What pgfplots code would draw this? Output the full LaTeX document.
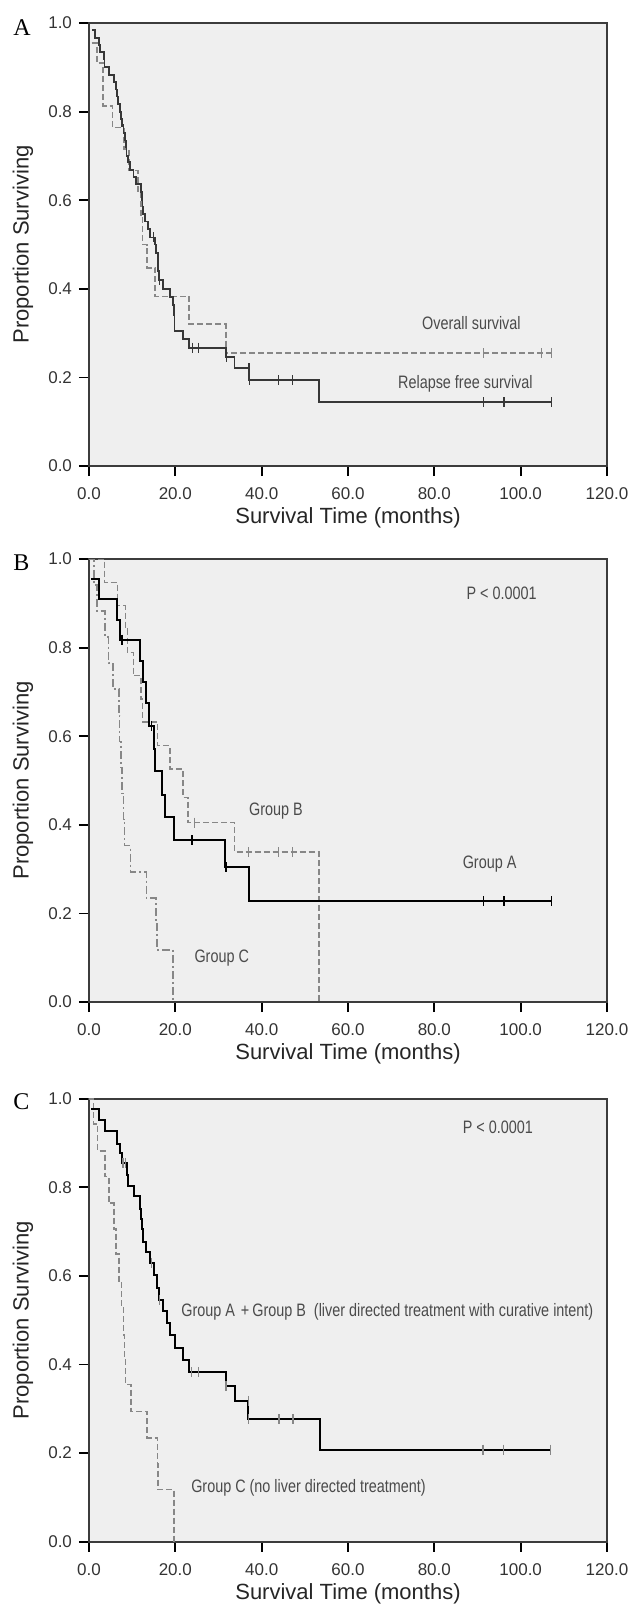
\documentclass[border=0pt]{standalone}
\usepackage{fontspec}
\setmainfont{Liberation Sans}
\newfontfamily\serifA{Liberation Serif}
\newfontfamily\annfont[FakeStretch=0.8]{Liberation Sans}
\usepackage{pgfplots}
\pgfplotsset{compat=1.18}
\definecolor{bg}{RGB}{239,239,239}
\definecolor{frame}{RGB}{60,60,60}
\definecolor{dk}{RGB}{55,55,55}
\definecolor{gr}{RGB}{135,135,135}
\definecolor{txt}{RGB}{75,75,75}
\tikzset{ann/.style={font=\annfont\fontsize{9pt}{10pt}\selectfont, text=txt, inner sep=0pt}}
\pgfplotsset{km/.style={
 width=259pt,height=221.5pt,scale only axis,
 xmin=0,xmax=120,ymin=0,ymax=1,
 xtick={0,20,40,60,80,100,120}, xticklabels={0.0,20.0,40.0,60.0,80.0,100.0,120.0},
 ytick={0,0.2,0.4,0.6,0.8,1.0}, yticklabels={0.0,0.2,0.4,0.6,0.8,1.0},
 tick align=outside, major tick length=5pt, xtick pos=bottom, ytick pos=left,
 tick style={line width=0.9pt, color=black},
 axis line style={line width=0.8pt, color=frame},
 axis background/.style={fill=bg},
 ticklabel style={font=\fontsize{8.5pt}{10pt}\selectfont, text=black!80},
 xticklabel style={yshift=-2.5pt},
 label style={font=\fontsize{11pt}{13pt}\selectfont, text=black!85},
 xlabel={Survival Time (months)},
 ylabel={Proportion Surviving},
 xlabel style={at={(axis description cs:0.5,-0.117)}, anchor=center},
 ylabel style={at={(axis description cs:-0.1274,0.5)}, anchor=center},
 censor/.style={only marks, mark=|, mark size=2.5pt, mark options={line width=0.7pt}},
}}
\begin{document}
\begin{tikzpicture}
\path[use as bounding box] (0,0) rectangle (317pt,-806pt);
% ---------- Panel A ----------
\begin{axis}[km, at={(44.5pt,-233pt)}, anchor=south west]
\addplot[const plot, color=gr, line width=0.8pt, dash pattern=on 3pt off 1.5pt] coordinates {
(0.6,0.955)(1.8,0.91)(3.3,0.813)(5.4,0.764)(8.1,0.715)(9.2,0.667)(11.3,0.617)(12.0,0.56)(12.4,0.5)(13.5,0.447)(15.3,0.383)(23.2,0.32)(31.7,0.255)(107.1,0.255)};
\addplot[censor, color=gr] coordinates {(91.4,0.255)(104.8,0.255)(107.1,0.255)};
\addplot[const plot, color=dk, line width=0.9pt] coordinates {
(0.8,0.984)(1.4,0.967)(2.3,0.951)(2.5,0.934)(3.5,0.918)(3.6,0.9)(4.7,0.882)(5.8,0.866)(6.2,0.85)(6.5,0.834)(6.8,0.818)(7.1,0.80)(7.4,0.784)(7.7,0.768)(8.0,0.752)(8.3,0.735)(8.5,0.719)(8.7,0.70)(9.0,0.686)(9.5,0.669)(10.3,0.652)(10.8,0.636)(12.0,0.619)(12.2,0.60)(12.4,0.585)(12.6,0.568)(13.0,0.552)(13.7,0.535)(14.2,0.516)(15.3,0.50)(15.6,0.48)(15.9,0.46)(16.0,0.44)(16.3,0.42)(17.2,0.40)(18.7,0.382)(19.4,0.364)(19.6,0.34)(19.8,0.305)(21.7,0.286)(23.2,0.267)(31.7,0.246)(33.7,0.221)(37.1,0.194)(53.3,0.144)(107.1,0.144)};
\addplot[censor, color=dk] coordinates {(8.0,0.76)(15.0,0.516)(16.4,0.42)(24.0,0.267)(25.3,0.267)(31.8,0.246)(37.1,0.221)(37.2,0.194)(43.9,0.194)(47.2,0.194)(91.4,0.144)(96.1,0.144)(107.1,0.144)};
\node[ann] at (axis cs:88.6,0.322) {Overall survival};
\node[ann] at (axis cs:87.2,0.186) {Relapse free survival};
\end{axis}
\node[anchor=west, inner sep=0pt, font=\serifA\fontsize{12pt}{14pt}\selectfont] at (6.5pt,-14pt) {A};
% ---------- Panel B ----------
\begin{axis}[km, at={(44.5pt,-501pt)}, anchor=south west]
\addplot[const plot, color=gr, line width=0.8pt, dash pattern=on 4pt off 1.5pt on 1pt off 1.5pt] coordinates {
(0,1.0)(1.2,0.941)(1.9,0.882)(3.75,0.824)(4.5,0.765)(5.5,0.706)(6.9,0.647)(7.1,0.588)(7.4,0.529)(7.7,0.471)(8.0,0.412)(8.25,0.353)(9.6,0.294)(13.3,0.235)(15.5,0.176)(15.8,0.118)(19.5,0)};
\addplot[const plot, color=gr, line width=0.8pt, dash pattern=on 3pt off 1.5pt] coordinates {
(0,1.0)(3.56,0.947)(6.56,0.895)(8.44,0.842)(8.9,0.789)(10.3,0.737)(12.0,0.684)(12.4,0.632)(15.9,0.579)(18.75,0.526)(21.75,0.462)(23.0,0.405)(33.75,0.338)(53.25,0)};
\addplot[censor, color=gr] coordinates {(24.5,0.405)(37.0,0.338)(43.9,0.338)(47.1,0.338)};
\addplot[const plot, color=black, line width=1pt] coordinates {
(0.5,0.955)(2.3,0.909)(6.6,0.862)(7.2,0.818)(11.7,0.77)(12.4,0.722)(13.1,0.674)(13.9,0.624)(15.0,0.571)(15.3,0.521)(16.9,0.468)(17.6,0.417)(19.7,0.365)(31.6,0.304)(37.0,0.228)(107.1,0.228)};
\addplot[censor, color=black] coordinates {(7.6,0.818)(14.5,0.624)(23.9,0.365)(31.7,0.304)(91.4,0.228)(96.1,0.228)(107.1,0.228)};
\node[ann] at (axis cs:95.6,0.923) {P < 0.0001};
\node[ann] at (axis cs:43.3,0.43) {Group B};
\node[ann] at (axis cs:92.8,0.312) {Group A};
\node[ann] at (axis cs:30.75,0.10) {Group C};
\end{axis}
\node[anchor=west, inner sep=0pt, font=\serifA\fontsize{12pt}{14pt}\selectfont] at (6.5pt,-281.25pt) {B};
% ---------- Panel C ----------
\begin{axis}[km, at={(44.5pt,-770.85pt)}, anchor=south west]
\addplot[const plot, color=gr, line width=0.8pt, dash pattern=on 3pt off 1.5pt] coordinates {
(0,1.0)(1.0,0.943)(2.0,0.882)(3.75,0.824)(4.6,0.764)(5.8,0.706)(6.3,0.649)(7.0,0.588)(7.5,0.53)(8.0,0.466)(8.2,0.412)(8.44,0.355)(9.75,0.294)(13.5,0.234)(15.84,0.176)(16.0,0.118)(19.69,0)};
\addplot[const plot, color=black, line width=1pt] coordinates {
(0.5,0.976)(2.4,0.952)(3.6,0.927)(6.5,0.898)(7.22,0.878)(7.69,0.855)(8.81,0.828)(9.09,0.804)(10.31,0.78)(11.72,0.752)(12.0,0.728)(12.3,0.705)(12.56,0.677)(13.13,0.653)(14.06,0.629)(15.0,0.601)(15.66,0.573)(16.13,0.546)(17.06,0.52)(18.0,0.494)(18.75,0.466)(19.88,0.438)(21.75,0.41)(23.16,0.383)(31.78,0.351)(33.75,0.318)(36.94,0.277)(53.44,0.208)(106.9,0.208)};
\addplot[censor, color=gr] coordinates {(7.9,0.855)(8.44,0.855)(14.44,0.629)(16.4,0.546)(23.81,0.383)(25.31,0.383)(31.78,0.351)(36.94,0.318)(36.94,0.277)(43.97,0.277)(47.25,0.277)(91.3,0.208)(96.0,0.208)(106.9,0.208)};
\node[ann] at (axis cs:94.7,0.936) {P < 0.0001};
\node[ann, anchor=west] at (axis cs:21.3,0.518) {Group A\,\,+\,Group B\ \ (liver directed treatment with curative intent)};
\node[ann, anchor=west] at (axis cs:23.6,0.122) {Group C (no liver directed treatment)};
\end{axis}
\node[anchor=west, inner sep=0pt, font=\serifA\fontsize{12pt}{14pt}\selectfont] at (6.5pt,-550.75pt) {C};
\end{tikzpicture}
\end{document}
